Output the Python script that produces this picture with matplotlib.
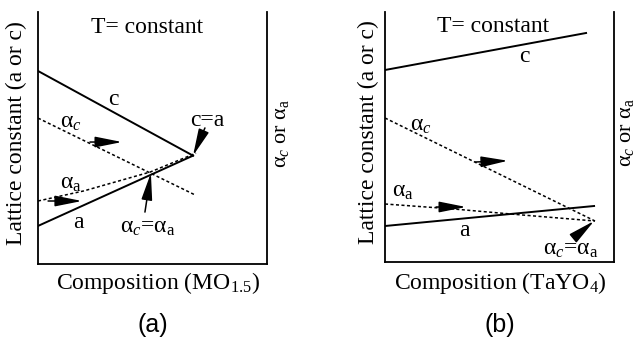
import matplotlib.pyplot as plt
import numpy as np

plt.rcParams['font.family'] = 'Liberation Serif'
plt.rcParams['mathtext.fontset'] = 'custom'
plt.rcParams['mathtext.rm'] = 'Liberation Serif'
plt.rcParams['mathtext.it'] = 'Liberation Serif:italic'

# -------- schematic curves (arbitrary units, x = composition, y = value) --------
# panel (a): MO1.5
a_c_x = [0.0, 0.677]
a_c_y = [0.766, 0.430]
a_a_x = [0.0, 0.677]
a_a_y = [0.151, 0.430]
a_alc_x = [0.0, 0.686]
a_alc_y = [0.579, 0.274]
a_ala_x = [0.0, 0.20, 0.49, 0.69]
a_ala_y = [0.250, 0.290, 0.365, 0.440]

# panel (b): TaYO4
b_c_x = [0.0, 0.878]
b_c_y = [0.768, 0.916]
b_a_x = [0.0, 0.913]
b_a_y = [0.144, 0.224]
b_alc_x = [0.0, 0.917]
b_alc_y = [0.576, 0.164]
b_ala_x = [0.0, 0.30, 0.60, 0.917]
b_ala_y = [0.232, 0.212, 0.188, 0.164]

ALC = r'α$_{\mathit{c}}$'
ALA = r'α$_{\mathrm{a}}$'


def style_axes(ax):
    ax.set_xlim(0, 1)
    ax.set_ylim(0, 1)
    ax.set_xticks([])
    ax.set_yticks([])
    ax.spines['top'].set_visible(False)
    for s in ('left', 'right', 'bottom'):
        ax.spines[s].set_linewidth(1.3)


def arrow(ax, tail, head):
    ax.annotate('', xy=head, xytext=tail,
                arrowprops=dict(arrowstyle='-|>,head_length=1.1,head_width=0.22',
                                mutation_scale=15, lw=1.1, color='k',
                                shrinkA=0, shrinkB=0))


solid = dict(color='k', lw=1.4)
dotted = dict(color='k', lw=1.1, ls=(0, (2.0, 1.6)))
fs = 17

fig = plt.figure(figsize=(6.38, 3.42), dpi=100)

# ---- (a) ----
ax = fig.add_axes([38 / 638, 1 - 264 / 342, 229 / 638, 252 / 342])
style_axes(ax)
ax.plot(a_c_x, a_c_y, **solid)
ax.plot(a_a_x, a_a_y, **solid)
ax.plot(a_alc_x, a_alc_y, **dotted)
ax.plot(a_ala_x, a_ala_y, **dotted)

ax.text(0.476, 0.937, 'T= constant', fontsize=fs, ha='center', va='center')
ax.text(0.328, 0.651, 'c', fontsize=fs, ha='center', va='center')
ax.text(0.175, 0.163, 'a', fontsize=fs, ha='center', va='center')
ax.text(0.144, 0.563, ALC, fontsize=fs, ha='center', va='center')
ax.text(0.144, 0.321, ALA, fontsize=fs, ha='center', va='center')
ax.text(0.738, 0.571, 'c=a', fontsize=fs, ha='center', va='center')
ax.text(0.48, 0.143, ALC + '=' + ALA, fontsize=fs, ha='center', va='center')

arrow(ax, (0.227, 0.484), (0.367, 0.484))
arrow(ax, (0.044, 0.250), (0.192, 0.250))
arrow(ax, (0.729, 0.540), (a_c_x[-1], a_c_y[-1]))
arrow(ax, (0.467, 0.206), (0.493, 0.361))

ax.text(-0.092, 0.52, 'Lattice constant (a or c)', fontsize=fs, rotation=90,
        ha='center', va='center', transform=ax.transAxes)
ax.text(1.065, 0.52, ALC + ' or ' + ALA, fontsize=16, rotation=90,
        ha='center', va='center', transform=ax.transAxes)
ax.text(0.524, -0.075, r'Composition (MO$_{\mathrm{1.5}}$)', fontsize=fs,
        ha='center', va='center', transform=ax.transAxes)
ax.text(0.502, -0.242, '(a)', fontsize=18, family='Liberation Sans',
        ha='center', va='center', transform=ax.transAxes)

# ---- (b) ----
ax = fig.add_axes([385 / 638, 1 - 262 / 342, 229 / 638, 250 / 342])
style_axes(ax)
ax.plot(b_c_x, b_c_y, **solid)
ax.plot(b_a_x, b_a_y, **solid)
ax.plot(b_alc_x, b_alc_y, **dotted)
ax.plot(b_ala_x, b_ala_y, **dotted)

ax.text(0.472, 0.94, 'T= constant', fontsize=fs, ha='center', va='center')
ax.text(0.607, 0.82, 'c', fontsize=fs, ha='center', va='center')
ax.text(0.345, 0.124, 'a', fontsize=fs, ha='center', va='center')
ax.text(0.157, 0.548, ALC, fontsize=fs, ha='center', va='center')
ax.text(0.079, 0.284, ALA, fontsize=fs, ha='center', va='center')
ax.text(0.812, 0.05, ALC + '=' + ALA, fontsize=fs, ha='center', va='center')

arrow(ax, (0.395, 0.40), (0.537, 0.405))
arrow(ax, (0.223, 0.220), (0.354, 0.220))
arrow(ax, (0.835, 0.105), (b_alc_x[-1] - 0.004, b_alc_y[-1]))

ax.text(-0.074, 0.52, 'Lattice constant (a or c)', fontsize=fs, rotation=90,
        ha='center', va='center', transform=ax.transAxes)
ax.text(1.055, 0.52, ALC + ' or ' + ALA, fontsize=16, rotation=90,
        ha='center', va='center', transform=ax.transAxes)
ax.text(0.502, -0.084, r'Composition (TaYO$_{\mathrm{4}}$)', fontsize=fs,
        ha='center', va='center', transform=ax.transAxes)
ax.text(0.502, -0.252, '(b)', fontsize=18, family='Liberation Sans',
        ha='center', va='center', transform=ax.transAxes)

fig.savefig('out.png', dpi=100)
